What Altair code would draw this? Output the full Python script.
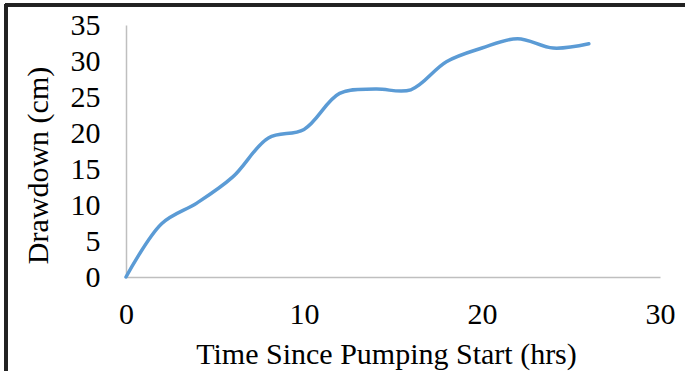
import altair as alt
import pandas as pd

hours = [0, 2, 4, 6, 8, 10, 12, 14, 16, 18, 20, 22, 24, 26]
drawdown = [0, 7.4, 10.3, 13.9, 19.3, 20.5, 25.5, 26.1, 26.0, 29.9, 31.8, 33.1, 31.8, 32.4]

df = pd.DataFrame({"hours": hours, "drawdown": drawdown})

FONT = "Liberation Serif"
FS = 30

line = alt.Chart(df).mark_line(
    interpolate="catmull-rom", color="#5B9BD5", strokeWidth=3.5, strokeCap="round"
).encode(
    x=alt.X("hours:Q", scale=alt.Scale(domain=[0, 30], nice=False),
            axis=alt.Axis(values=[0, 10, 20, 30], title="Time Since Pumping Start (hrs)",
                          ticks=False, grid=False, domainColor="#BFBFBF", domainWidth=1.5,
                          labelFont=FONT, labelFontSize=FS, labelColor="black", labelPadding=22,
                          labelFlush=False,
                          titleFont=FONT, titleFontSize=FS, titleFontWeight="normal", titleColor="black",
                          titleX=260, titleY=86, titleBaseline="alphabetic")),
    y=alt.Y("drawdown:Q", scale=alt.Scale(domain=[0, 35], nice=False),
            axis=alt.Axis(values=[0, 5, 10, 15, 20, 25, 30, 35], title="Drawdown (cm)",
                          ticks=False, grid=False, domainColor="#BFBFBF", domainWidth=1.5,
                          labelFont=FONT, labelFontSize=FS, labelColor="black", labelPadding=26,
                          titleFont=FONT, titleFontSize=FS, titleFontWeight="normal", titleColor="black",
                          titleX=-79, titleY=140, titleBaseline="alphabetic", titleAngle=-90)),
)

frame_top = alt.Chart(df).mark_rule(color="#222222", strokeWidth=2.5).encode(
    x=alt.value(-121), x2=alt.value(600), y=alt.value(-20)
)
frame_left = alt.Chart(df).mark_rule(color="#222222", strokeWidth=2.5).encode(
    x=alt.value(-120), y=alt.value(-21), y2=alt.value(400)
)

chart = alt.layer(line, frame_top, frame_left).properties(
    width=534, height=252,
    autosize=alt.AutoSizeParams(type="none"),
    padding={"left": 126, "top": 25, "right": 25, "bottom": 94},
    background="white",
).configure_view(stroke=None)

chart.save("out.html", embed_options={"renderer": "svg", "actions": False})
